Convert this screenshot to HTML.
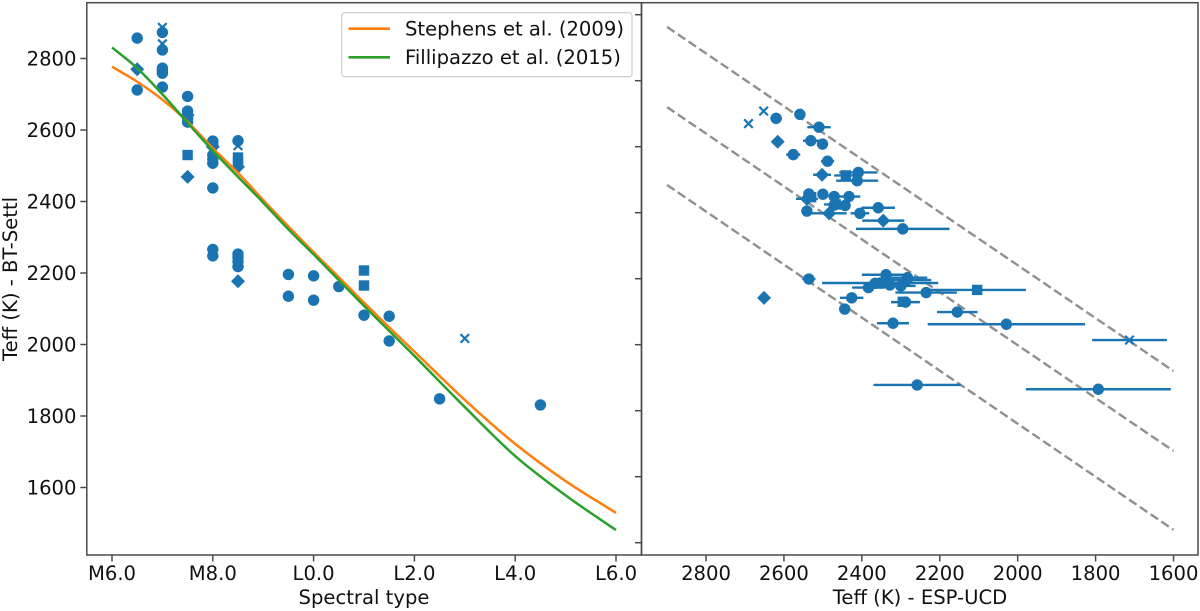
<!DOCTYPE html>
<html lang="en">
<head>
<meta charset="utf-8">
<title>Teff comparison chart</title>
<style>
html,body{margin:0;padding:0;background:#fff;}
svg{display:block;}
text{font-family:"DejaVu Sans","Liberation Sans",sans-serif;fill:#111;}
</style>
</head>
<body>
<svg id="chart" xmlns="http://www.w3.org/2000/svg" width="1200" height="611" viewBox="0 0 1200 611">
  <g id="left-panel"></g>
  <g id="right-panel"></g>
  <g id="legend">
    <rect x="341.7" y="12.7" width="290.3" height="64" rx="3" fill="#fff" fill-opacity="0.85" stroke="#d4d4d4" stroke-width="1.4"></rect>
    <line x1="348.5" x2="390" y1="28.7" y2="28.7" stroke="#ff7f0e" stroke-width="2.7"></line>
    <text x="405" y="35.6" font-size="19.6">Stephens et al. (2009)</text>
    <line x1="348.5" x2="390" y1="57.3" y2="57.3" stroke="#2ca02c" stroke-width="2.7"></line>
    <text x="405" y="64.2" font-size="19.6">Fillipazzo et al. (2015)</text>
  </g>
</svg>
<script>
// ---------- left panel data ----------
const spectralTickValues = [6, 8, 10, 12, 14, 16];
const spectralTickLabels = ["M6.0", "M8.0", "L0.0", "L2.0", "L4.0", "L6.0"];
const leftTeffTicks = [2800, 2600, 2400, 2200, 2000, 1800, 1600];

const curveTypes = [6, 6.5, 7, 7.5, 8, 8.5, 9, 9.5, 10, 10.5, 11, 11.5, 12, 13, 14, 15, 16];
const stephensTeff = [2777, 2735, 2685, 2623, 2549, 2480, 2404, 2330, 2258, 2188, 2117, 2048, 1980, 1845, 1722, 1618, 1529];
const fillipazzoTeff = [2831, 2773, 2700, 2620, 2542, 2469, 2397, 2322, 2252, 2180, 2108, 2038, 1968, 1825, 1688, 1578, 1481];

const leftCircleTypes = [6.5, 6.5, 7, 7, 7, 7, 7, 7, 7.5, 7.5, 7.5, 7.5, 7.5, 8, 8, 8, 8, 8, 8, 8, 8, 8.5, 8.5, 8.5, 8.5, 8.5, 9.5, 9.5, 10, 10, 10.5, 11, 11.5, 11.5, 12.5, 14.5];
const leftCircleTeff = [2857, 2712, 2873, 2824, 2773, 2766, 2759, 2720, 2694, 2653, 2642, 2633, 2622, 2569, 2561, 2530, 2518, 2507, 2438, 2266, 2248, 2570, 2253, 2244, 2232, 2218, 2196, 2135, 2192, 2124, 2162, 2082, 2079, 2010, 1848, 1831];
const leftDiamondTypes = [6.5, 7.5, 7.5, 8, 8.5, 8.5];
const leftDiamondTeff = [2770, 2642, 2469, 2553, 2497, 2177];
const leftSquareTypes = [7.5, 8.5, 8.5, 11, 11];
const leftSquareTeff = [2530, 2523, 2510, 2207, 2165];
const leftCrossTypes = [7, 7, 8.5, 13];
const leftCrossTeff = [2887, 2841, 2556, 2017];

// ---------- right panel data ----------
const espTickValues = [2800, 2600, 2400, 2200, 2000, 1800, 1600];
const rightTeffTicks = [3000, 2800, 2600, 2400, 2200, 2000, 1800, 1600, 1400];

const guideEspEnds = [2900, 1600];
const guideUpper = [2963, 1920];
const guideMiddle = [2720, 1678];
const guideLower = [2484, 1439];

const espCircleTeff = [2620, 2559, 2510, 2531, 2501, 2576, 2488, 2409, 2412, 2536, 2500, 2471, 2433, 2443, 2471, 2541, 2405, 2358, 2295, 2536, 2353, 2338, 2283, 2383, 2328, 2300, 2366, 2284, 2235, 2426, 2444, 2288, 2320, 2155, 2029, 2258, 1793];
const espCircleErr = [15, 0, 30, 20, 8, 18, 17, 49, 54, 0, 0, 15, 29, 13, 8, 0, 24, 43, 120, 17, 149, 62, 51, 42, 33, 38, 25, 62, 79, 30, 0, 37, 41, 52, 202, 112, 186];
const espCircleBt = [2686, 2698, 2659, 2618, 2608, 2576, 2556, 2522, 2497, 2457, 2456, 2449, 2449, 2422, 2423, 2405, 2398, 2415, 2351, 2199, 2187, 2212, 2203, 2173, 2181, 2178, 2186, 2196, 2158, 2142, 2108, 2129, 2065, 2099, 2062, 1878, 1865];
const espDiamondTeff = [2616, 2502, 2541, 2484, 2345, 2651];
const espDiamondErr = [0, 23, 28, 45, 54, 0];
const espDiamondBt = [2615, 2515, 2442, 2398, 2376, 2142];
const espSquareTeff = [2441, 2530, 2467, 2104, 2295];
const espSquareErr = [30, 13, 30, 125, 12];
const espSquareBt = [2513, 2447, 2425, 2166, 2130];
const espCrossTeff = [1713, 2691, 2652];
const espCrossErr = [96, 0, 0];
const espCrossBt = [2014, 2670, 2708];

// ---------- axis functions ----------
const xLeft = v => 112 + (v - 6) * 50.4;
const yLeft = v => 58.5 + (2800 - v) * 0.3575;
const xRight = v => 706 + (2800 - v) * 0.3896;
const yRight = v => 14.7 + (3000 - v) * 0.33;

const NS = "http://www.w3.org/2000/svg";
const BLUE = "#1a74b2";
const FONT = 19.6;
const leftPanel = document.getElementById("left-panel");
const rightPanel = document.getElementById("right-panel");

function make(tag, parent, props) {
  const el = document.createElementNS(NS, tag);
  for (const k in props) el.setAttribute(k, props[k]);
  parent.appendChild(el);
  return el;
}

function smoothPath(xs, ys) {
  const pts = xs.map((x, i) => [xLeft(x), yLeft(ys[i])]);
  let d = "M" + pts[0][0] + " " + pts[0][1];
  for (let i = 0; i < pts.length - 1; i++) {
    const p0 = pts[Math.max(i - 1, 0)];
    const p1 = pts[i];
    const p2 = pts[i + 1];
    const p3 = pts[Math.min(i + 2, pts.length - 1)];
    const h = (p2[0] - p1[0]) / 3;
    const m1 = (p2[1] - p0[1]) / (p2[0] - p0[0]);
    const m2 = (p3[1] - p1[1]) / (p3[0] - p1[0]);
    d += "C" + (p1[0] + h) + " " + (p1[1] + m1 * h) + " " + (p2[0] - h) + " " + (p2[1] - m2 * h) + " " + p2[0] + " " + p2[1];
  }
  return d;
}

function drawMarker(parent, kind, cx, cy) {
  let el;
  if (kind === "circle") {
    el = make("circle", parent, { cx: cx, cy: cy, r: 5.7, fill: BLUE });
  } else if (kind === "square") {
    el = make("rect", parent, { x: cx - 5.2, y: cy - 5.2, width: 10.4, height: 10.4, fill: BLUE });
  } else if (kind === "diamond") {
    const d = 7;
    el = make("polygon", parent, { points: [cx, cy - d, cx + d, cy, cx, cy + d, cx - d, cy].join(","), fill: BLUE });
  } else {
    const d = 4.3;
    el = make("path", parent, { d: "M" + (cx - d) + " " + (cy - d) + "L" + (cx + d) + " " + (cy + d) + "M" + (cx - d) + " " + (cy + d) + "L" + (cx + d) + " " + (cy - d), stroke: BLUE, "stroke-width": 2.2, fill: "none" });
  }
  
  
}

function drawErrorBar(parent, teff, err, bt) {
  if (!err) return;
  const el = make("line", parent, { x1: xRight(teff + err), x2: xRight(teff - err), y1: yRight(bt), y2: yRight(bt), stroke: BLUE, "stroke-width": 2.4 });
  
  
}

function drawSpines(parent, x0, x1, y0, y1) {
  const el = make("rect", parent, { x: x0, y: y0, width: x1 - x0, height: y1 - y0, fill: "none", stroke: "#4a4a4a", "stroke-width": 1.5 });
  
  
}

function drawXTick(parent, px, label) {
  const tick = make("line", parent, { x1: px, x2: px, y1: 555, y2: 561.5, stroke: "#4a4a4a", "stroke-width": 1.5 });
  
  
  const text = make("text", parent, { x: px, y: 580, "font-size": FONT, "text-anchor": "middle" });
  text.textContent = label;
  
  
}

function drawYTick(parent, x, py, label) {
  const tick = make("line", parent, { x1: x - 6.5, x2: x, y1: py, y2: py, stroke: "#4a4a4a", "stroke-width": 1.5 });
  
  
  if (label === null) return;
  const text = make("text", parent, { x: 76.5, y: py + 7.1, "font-size": FONT, "text-anchor": "end" });
  text.textContent = label;
  
  
}

// ---------- left panel ----------
leftCircleTypes.forEach((t, i) => drawMarker(leftPanel, "circle", xLeft(t), yLeft(leftCircleTeff[i])));
leftSquareTypes.forEach((t, i) => drawMarker(leftPanel, "square", xLeft(t), yLeft(leftSquareTeff[i])));
leftDiamondTypes.forEach((t, i) => drawMarker(leftPanel, "diamond", xLeft(t), yLeft(leftDiamondTeff[i])));
leftCrossTypes.forEach((t, i) => drawMarker(leftPanel, "cross", xLeft(t), yLeft(leftCrossTeff[i])));

const stephensLine = make("path", leftPanel, { d: smoothPath(curveTypes, stephensTeff), fill: "none", stroke: "#ff7f0e", "stroke-width": 2.5, "stroke-linejoin": "round" });


const fillipazzoLine = make("path", leftPanel, { d: smoothPath(curveTypes, fillipazzoTeff), fill: "none", stroke: "#2ca02c", "stroke-width": 2.5, "stroke-linejoin": "round" });



spectralTickValues.forEach((v, i) => drawXTick(leftPanel, xLeft(v), spectralTickLabels[i]));
leftTeffTicks.forEach(v => drawYTick(leftPanel, 86.8, yLeft(v), String(v)));
drawSpines(leftPanel, 86.8, 641.5, 2.7, 555);

const leftXTitle = make("text", leftPanel, { x: 364, y: 604, "font-size": FONT, "text-anchor": "middle" });
leftXTitle.textContent = "Spectral type";


const leftYTitle = make("text", leftPanel, { x: 0, y: 0, "font-size": FONT, "text-anchor": "middle", transform: "translate(17 279) rotate(-90)" });
leftYTitle.textContent = "Teff (K) - BT-Settl";



// ---------- right panel ----------
[guideUpper, guideMiddle, guideLower].forEach(series => {
  const guide = make("line", rightPanel, { x1: xRight(guideEspEnds[0]), y1: yRight(series[0]), x2: xRight(guideEspEnds[1]), y2: yRight(series[1]), stroke: "#909090", "stroke-width": 2.4, "stroke-dasharray": "9 4" });
  
  
});

espCircleTeff.forEach((t, i) => drawErrorBar(rightPanel, t, espCircleErr[i], espCircleBt[i]));
espSquareTeff.forEach((t, i) => drawErrorBar(rightPanel, t, espSquareErr[i], espSquareBt[i]));
espDiamondTeff.forEach((t, i) => drawErrorBar(rightPanel, t, espDiamondErr[i], espDiamondBt[i]));
espCrossTeff.forEach((t, i) => drawErrorBar(rightPanel, t, espCrossErr[i], espCrossBt[i]));

espCircleTeff.forEach((t, i) => drawMarker(rightPanel, "circle", xRight(t), yRight(espCircleBt[i])));
espSquareTeff.forEach((t, i) => drawMarker(rightPanel, "square", xRight(t), yRight(espSquareBt[i])));
espDiamondTeff.forEach((t, i) => drawMarker(rightPanel, "diamond", xRight(t), yRight(espDiamondBt[i])));
espCrossTeff.forEach((t, i) => drawMarker(rightPanel, "cross", xRight(t), yRight(espCrossBt[i])));

espTickValues.forEach(v => drawXTick(rightPanel, xRight(v), String(v)));
rightTeffTicks.forEach(v => drawYTick(rightPanel, 641.5, yRight(v), null));
drawSpines(rightPanel, 641.5, 1198, 2.7, 555);

const rightXTitle = make("text", rightPanel, { x: 920, y: 604, "font-size": FONT, "text-anchor": "middle" });
rightXTitle.textContent = "Teff (K) - ESP-UCD";


</script>
</body>
</html>
